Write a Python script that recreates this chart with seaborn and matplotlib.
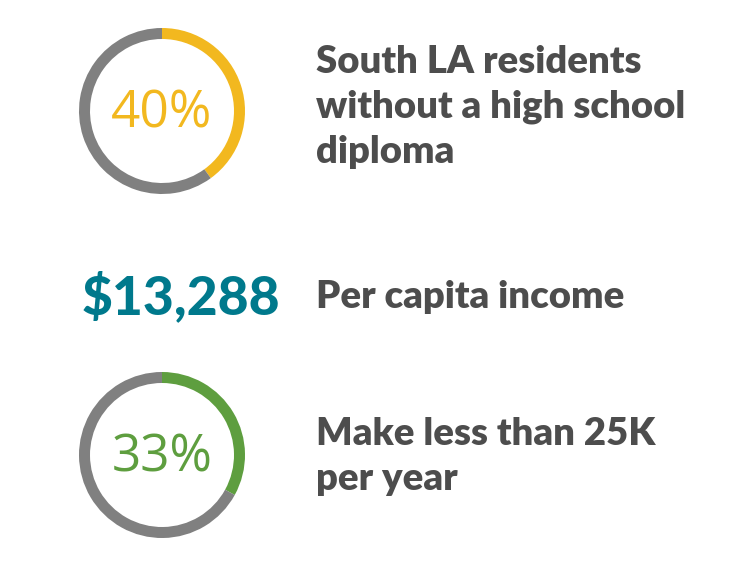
import matplotlib
matplotlib.use("Agg")
import matplotlib.pyplot as plt
import seaborn as sns

sns.set_style("white")
plt.rcParams['font.family'] = ['Lato', 'DejaVu Sans']

percents = [40, 33]
pct_colors = ["#F2B81F", "#5E9E3F"]
ring_grey = "#808080"
labels = ["South LA residents\nwithout a high school\ndiploma", "Make less than 25K\nper year"]
label_tops = [45, 417]
income_value = "$13,288"
income_label = "Per capita income"
text_color = "#4D4D4D"
teal = "#00798C"

fig = plt.figure(figsize=(7.5, 5.62), dpi=100)
ax = fig.add_axes([0, 0, 1, 1])

centers_y = [111, 455]
for p, c, cy, lab, top in zip(percents, pct_colors, centers_y, labels, label_tops):
    ax.pie([p, 100 - p], colors=[c, ring_grey], startangle=-90, counterclock=True,
           center=(162, cy), radius=83, wedgeprops=dict(width=11, edgecolor='none'),
           frame=True)
    ax.text(162, cy + 3, f"{p}%", ha='center', va='center', fontsize=37,
            color=c, fontweight='normal', family=['Open Sans', 'DejaVu Sans'])
    ax.text(316, top, lab, ha='left', va='top', fontsize=27.5,
            fontweight='heavy', color=text_color, linespacing=1.38)

ax.set_xlim(0, 750)
ax.set_ylim(562, 0)
ax.set_aspect('equal')
ax.axis('off')
ax.text(181, 297, income_value, ha='center', va='center', fontsize=38.5,
        fontweight='black', color=teal)
ax.text(316, 297, income_label, ha='left', va='center', fontsize=27.5,
        fontweight='heavy', color=text_color)

fig.savefig("out.png", dpi=100, facecolor='white')
